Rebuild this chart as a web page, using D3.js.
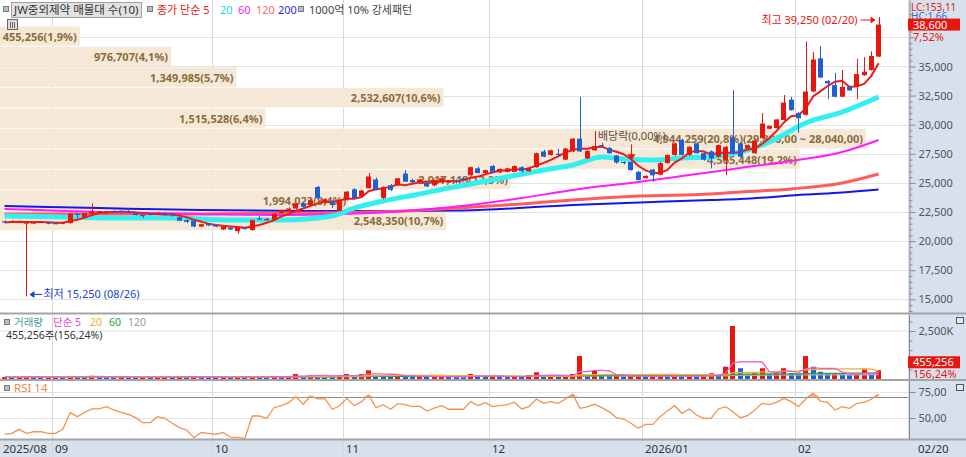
<!DOCTYPE html>
<html>
<head>
<meta charset="utf-8">
<title>JW중외제약 일봉</title>
<script src="https://d3js.org/d3.v7.min.js" charset="utf-8"></script>
<style>
  html, body { margin: 0; padding: 0; background: #fff; }
  svg text { font-family: "Noto Sans", "Noto Sans CJK KR", sans-serif; }
</style>
</head>
<body>
<script>
// daily candles, 2025/08/21 .. 2026/02/20 (prices in won)
var opens = [21700,21650,21650,21550,21550,21600,21600,21550,21500,21550,22350,22050,22350,22450,22500,22600,22600,22550,22400,22250,
  22350,22350,22400,22300,22050,21800,21750,21250,21500,21400,21000,21150,20850,21150,20950,21950,21850,21800,22400,22500,
  22800,23250,23100,24650,23300,23400,22600,23550,24450,23850,24550,25300,23700,24800,24800,25800,25250,25050,25000,24800,
  25050,25100,25200,25400,25650,26250,25850,26450,25900,25950,25950,26350,26000,26350,27700,27400,27500,27000,27700,28800,
  27100,27800,28250,28000,27350,26800,26800,25950,25400,26150,25700,26700,27400,28700,27400,28400,27550,27700,27250,26950,
  28900,28400,27950,27550,28850,29650,29700,30400,32150,31000,30850,32850,35700,33750,33400,32400,33250,33250,34250,34700,35850];
var highs = [21800,21800,21750,21700,21700,21700,21650,21650,21650,22400,22400,22400,23250,22600,22600,22650,22650,22800,22450,22300,
  22400,22500,22450,22400,22100,21850,21800,21500,21550,21450,21300,21200,21200,21200,21850,22150,22000,22400,22700,22900,
  23300,23350,23600,24750,23700,23500,23600,24300,24550,24400,25850,25450,24700,24900,25400,26100,25350,25350,25100,25300,
  25450,25250,25300,25500,26400,26400,26150,26550,26250,26300,26500,26450,26350,27600,27850,27850,27950,28000,28850,32400,
  27800,29450,28450,28100,27400,26850,26850,26050,25650,26200,26800,27450,28450,28800,28150,28500,27650,27800,28300,28200,
  32950,28500,28300,28700,31000,29950,30500,32550,32400,31100,37150,36250,36750,33850,34450,34700,33350,35650,35800,36300,39250];
var lows = [21550,21550,21600,15250,21500,21550,21450,21450,21450,21500,21950,22000,22300,22400,22450,22450,22450,22400,22200,22000,
  22200,22250,22200,22100,21700,21550,21200,21200,21300,21200,20950,20950,20650,21000,20900,21800,21750,21750,22350,22450,
  22700,22900,23000,23600,23200,22850,22550,23500,23650,23800,24500,24350,23600,24300,24750,25100,24900,24950,24650,24700,
  25000,25000,24950,25150,25600,25800,25800,25850,25850,25900,25900,25900,25950,26300,27200,27350,27250,26950,27650,27650,
  27050,27750,28050,27500,26650,26600,26050,25200,25350,25100,25650,26650,27300,27350,27300,27500,26900,26250,27200,25650,
  27450,27200,27900,27500,28800,29600,29650,30350,31200,29300,30800,32800,34000,32200,32350,32350,32900,32200,34200,34650,35800];
var closes = [21600,21700,21700,21600,21600,21650,21500,21500,21600,22350,22250,22400,22550,22550,22550,22500,22500,22500,22250,22200,
  22300,22400,22250,22250,21750,21650,21250,21450,21350,21250,21250,21000,21200,21050,21800,21900,21900,22350,22650,22800,
  23250,22950,23500,23700,23600,23100,23550,24250,23700,24350,25550,24400,24650,24400,25400,25100,25050,25300,24700,25250,
  25400,25150,25100,25250,26350,25850,26100,25900,26200,26250,26450,26000,26300,27550,27250,27800,27450,27950,28800,27700,
  27750,28150,28150,27550,26750,26700,26100,25250,25600,25650,26700,27400,28400,27400,28100,27550,27000,27100,28250,28100,
  27500,27250,28250,28650,30100,29900,30450,31900,31250,30550,32850,35600,34050,33550,32400,33250,32950,34350,34550,35900,38600];
// volume (shares)
var volumes = [100000,90000,110000,130000,100000,90000,110000,100000,90000,150000,120000,110000,170000,130000,100000,90000,110000,100000,90000,100000,
  80000,90000,130000,110000,120000,100000,140000,110000,90000,80000,100000,90000,110000,80000,150000,120000,100000,130000,110000,120000,
  260000,150000,210000,190000,150000,120000,170000,260000,180000,260000,450000,200000,180000,150000,210000,160000,120000,130000,110000,120000,
  140000,110000,100000,90000,260000,160000,120000,130000,110000,100000,140000,120000,200000,350000,150000,160000,140000,150000,260000,1200000,
  200000,420000,180000,150000,170000,130000,150000,160000,120000,140000,160000,150000,160000,140000,150000,130000,160000,300000,260000,640000,
  2760000,560000,250000,300000,560000,260000,330000,560000,300000,260000,1200000,640000,380000,260000,280000,250000,200000,250000,500000,291383,455256];
// RSI 14 as drawn
var rsi14 = [34.3,35.3,39.1,35.3,36.8,36.8,35.3,35.3,39.1,55.1,51.3,55.5,58.7,58.7,60.9,57.7,55.5,53.5,50.3,45.5,
  45.5,51.3,49.7,44.9,40.7,38.5,31.1,36.2,35.3,34.3,36.2,31.7,31.4,30.5,51.9,51.9,49.7,59.9,61.8,64.7,
  70.5,63.2,71.2,68.3,68.3,58.4,61.8,68.9,61.8,65.7,72.1,59.9,62.8,58.4,63.8,62.8,60.9,61.4,56.7,59.6,
  61.8,58.4,58.4,58.4,65.7,62.0,64.7,60.9,61.8,62.8,65.1,58.7,60.9,68.3,64.1,65.7,64.1,68.3,72.8,59.3,
  60.6,63.2,59.9,56.1,50.3,49.0,44.9,40.1,43.9,43.9,51.3,56.7,61.8,54.5,58.7,52.9,49.7,49.7,58.7,60.9,
  56.1,50.3,52.2,57.7,64.1,62.8,65.1,68.9,65.7,60.9,68.3,73.8,66.3,65.1,57.7,60.9,59.3,64.1,65.1,68.0,72.8];

// moving averages: [candle index, price]
var ma20 = [[0,22150],[8,22070],[16,21990],[23,21990],[31,21810],[38,21810],[45,22160],[48,22840],[52,23450],[57,24050],[61,24560],
  [64,24900],[69,25510],[74,26110],[78,26540],[82,27230],[85,27050],[89,26970],[93,27140],[97,27230],[101,27650],[105,28510],[110,30150],[115,31090],[120,32380]];
var ma60 = [[0,22760],[13,22500],[27,22330],[38,22240],[46,22330],[53,22500],[60,22840],[71,23700],[78,24390],[87,25080],[93,25590],
  [101,26280],[107,26800],[115,27650],[120,28690]];
var ma120 = [[0,22330],[13,22330],[27,22330],[41,22410],[55,22590],[60,22760],[71,23190],[78,23530],[87,23870],[97,24050],[101,24220],
  [108,24480],[115,24990],[120,25760]];
var ma200 = [[0,23020],[6,22930],[13,22840],[27,22670],[41,22590],[54,22590],[63,22630],[78,23100],[97,23530],[101,23620],[110,24000],
  [115,24180],[120,24430]];

// 매물대 (volume by price), top band first
var bandVolumes = [455256,976707,1349985,2532607,1515528,4944259,4565448,2917113,1994023,2548350];
var bandPcts = [1.9,4.1,5.7,10.6,6.4,20.8,19.2,12.3,8.4,10.7];
var bandRange = [21000, 38600];

var monthStarts = [7,29,47,67,88,109];
var monthLabels = ["2025/08","09","10","11","12","2026/01","02"];
var priceTicks = [15000,17500,20000,22500,25000,27500,30000,32500,35000,37500];

var W = 966, H = 457, n = closes.length;
var RED = "#e8170e", BLUE = "#1f5fd0";

var svg = d3.select("body").append("svg")
  .attr("width", W).attr("height", H).style("display", "block");

svg.append("rect").attr("width", W).attr("height", H).attr("fill", "#fff");
svg.append("rect").attr("x", 908).attr("y", 0).attr("width", W - 908).attr("height", H).attr("fill", "#d7e1ed");
svg.append("rect").attr("x", 0).attr("y", 440).attr("width", W).attr("height", 17).attr("fill", "#d7e1ed");

// scales
var x = d3.scaleBand().domain(d3.range(n)).range([0.9, 0.9 + n * 7.284]).paddingInner(0.3).paddingOuter(0.15);
function xc(i) { return x(i) + x.bandwidth() / 2; }
var yP = d3.scaleLinear().domain([13910, 40711]).range([312, 0]);
var yV = d3.scaleLinear().domain([0, 2500000]).range([379, 331]);
var yR = d3.scaleLinear().domain([30, 75]).range([438.8, 392]);
var bx = d3.scaleLinear().domain([0, d3.max(bandVolumes)]).range([0, 866]);
var comma = function (s) { return s.replace(/\./g, ","); };

// grid
svg.append("g").selectAll("line").data(priceTicks).join("line")
  .attr("x1", 0).attr("x2", 908).attr("y1", d => Math.round(yP(d)) + 0.5).attr("y2", d => Math.round(yP(d)) + 0.5)
  .attr("stroke", "#e3e3e3");
svg.append("g").selectAll("line").data([2500000]).join("line")
  .attr("x1", 0).attr("x2", 908).attr("y1", d => yV(d)).attr("y2", d => yV(d)).attr("stroke", "#e3e3e3");
svg.append("g").selectAll("line").data([75, 50]).join("line")
  .attr("x1", 0).attr("x2", 908).attr("y1", d => Math.round(yR(d)) + 0.5).attr("y2", d => Math.round(yR(d)) + 0.5)
  .attr("stroke", "#e3e3e3");
svg.append("line").attr("x1", 0).attr("x2", 908).attr("y1", Math.round(yR(70)) + 0.5).attr("y2", Math.round(yR(70)) + 0.5)
  .attr("stroke", "#8c8c8c");
svg.append("g").selectAll("line").data(monthStarts).join("line")
  .attr("x1", d => Math.round(xc(d) - x.step() / 2) + 0.5).attr("x2", d => Math.round(xc(d) - x.step() / 2) + 0.5)
  .attr("y1", 0).attr("y2", H).attr("stroke", "#d8d8d8");

// volume profile bands
var bandStep = (bandRange[1] - bandRange[0]) / bandVolumes.length;
var bands = svg.append("g");
bandVolumes.forEach(function (v, k) {
  var top = bandRange[1] - k * bandStep, bot = top - bandStep;
  var y0 = yP(top) + 1.8, h = yP(bot) - yP(top) - 1;
  bands.append("rect").attr("x", 0).attr("y", y0).attr("width", bx(v)).attr("height", h).attr("fill", "#f5e8d7");
});
bandVolumes.forEach(function (v, k) {
  var top = bandRange[1] - k * bandStep, bot = top - bandStep;
  var label = d3.format(",")(v) + "(" + comma(bandPcts[k].toFixed(1)) + "%)";
  if (v === d3.max(bandVolumes)) {
    label += "(" + comma(d3.format(",.2f")(top)) + " ~ " + comma(d3.format(",.2f")(bot)) + ")";
  }
  bands.append("text").attr("x", bx(v) - 3).attr("y", (yP(top) + yP(bot)) / 2 + 6)
    .attr("text-anchor", "end").attr("font-size", "11px").attr("font-weight", "bold")
    .attr("fill", "#8a6c3c").text(label);
});

// moving averages
var ptLine = d3.line().x(d => xc(d[0])).y(d => yP(d[1])).curve(d3.curveMonotoneX);
[[ma200, "#1515ee", 2], [ma120, "#ff5c5c", 3], [ma60, "#ff1cff", 2], [ma20, "#33f0f0", 5]].forEach(function (m) {
  svg.append("path").attr("d", ptLine(m[0])).attr("fill", "none").attr("stroke", m[1])
    .attr("stroke-width", m[2]).attr("stroke-linejoin", "round");
});
function sma(arr, p) {
  return arr.map((d, i) => d3.mean(arr.slice(Math.max(0, i - p + 1), i + 1)));
}
var ma5 = sma(closes, 5);
svg.append("path").attr("d", d3.line().x((d, i) => xc(i)).y(d => yP(d))(ma5))
  .attr("fill", "none").attr("stroke", "#ee1c1c").attr("stroke-width", 2);

// candles
var cg = svg.append("g").selectAll("g").data(d3.range(n)).join("g");
cg.append("line")
  .attr("x1", i => Math.round(xc(i)) + 0.5).attr("x2", i => Math.round(xc(i)) + 0.5)
  .attr("y1", i => yP(highs[i])).attr("y2", i => yP(lows[i]))
  .attr("stroke", i => closes[i] >= opens[i] ? RED : BLUE);
cg.append("rect")
  .attr("x", i => Math.round(x(i))).attr("width", Math.round(x.bandwidth()))
  .attr("y", i => yP(Math.max(opens[i], closes[i])))
  .attr("height", i => Math.max(1.2, Math.abs(yP(opens[i]) - yP(closes[i]))))
  .attr("fill", i => closes[i] >= opens[i] ? RED : BLUE);

// annotations
var hiI = d3.maxIndex(highs), loI = d3.minIndex(lows);
var hy = yP(highs[hiI]) + 3;
svg.append("text").attr("x", xc(hiI) - 21).attr("y", hy + 4).attr("text-anchor", "end")
  .attr("font-size", "11px").attr("fill", RED).text("최고 39,250 (02/20)");
svg.append("line").attr("x1", xc(hiI) - 18).attr("x2", xc(hiI) - 6).attr("y1", hy).attr("y2", hy).attr("stroke", RED);
svg.append("path").attr("d", d3.line()([[xc(hiI) - 3, hy], [xc(hiI) - 8, hy - 3.5], [xc(hiI) - 8, hy + 3.5]])).attr("fill", RED);
var ly = yP(lows[loI]) - 2;
svg.append("line").attr("x1", xc(loI) + 6).attr("x2", xc(loI) + 16).attr("y1", ly).attr("y2", ly).attr("stroke", "#1a3fd0");
svg.append("path").attr("d", d3.line()([[xc(loI) + 3, ly], [xc(loI) + 8, ly - 3.5], [xc(loI) + 8, ly + 3.5]])).attr("fill", "#1a3fd0");
svg.append("text").attr("x", xc(loI) + 17).attr("y", ly + 4).attr("font-size", "11px").attr("fill", "#1a3fd0")
  .text("최저 15,250 (08/26)");
var divI = 86, dy = yP(highs[divI]);
svg.append("line").attr("x1", Math.round(xc(divI)) + 0.5).attr("x2", Math.round(xc(divI)) + 0.5)
  .attr("y1", dy - 17).attr("y2", dy - 4).attr("stroke", RED);
svg.append("path").attr("d", d3.line()([[xc(divI) + 0.5, dy - 1], [xc(divI) - 3.5, dy - 7], [xc(divI) + 4.5, dy - 7]])).attr("fill", RED);
svg.append("text").attr("x", xc(divI) - 33).attr("y", dy - 21).attr("font-size", "11px").attr("fill", "#5e4f3e").text("배당락(0,00%)");

// volume panel
svg.append("g").selectAll("rect").data(volumes).join("rect")
  .attr("x", (d, i) => Math.round(x(i))).attr("width", Math.round(x.bandwidth()))
  .attr("y", d => yV(d)).attr("height", d => 379 - yV(d))
  .attr("fill", (d, i) => i === 0 || d >= volumes[i - 1] ? RED : BLUE);
[[120, "#a8a8a8"], [60, "#2ea04e"], [20, "#f2b02c"], [5, "#e860d4"]].forEach(function (m) {
  svg.append("path").attr("d", d3.line().x((d, i) => xc(i)).y(d => yV(d))(sma(volumes, m[0])))
    .attr("fill", "none").attr("stroke", m[1]).attr("stroke-width", 1.3);
});

// RSI panel
svg.append("path").attr("d", d3.area().x((d, i) => xc(i)).y0(yR(70)).y1(d => yR(Math.max(d, 70)))(rsi14))
  .attr("fill", "#f6b888");
svg.append("path").attr("d", d3.line().x((d, i) => xc(i)).y(d => yR(d))(rsi14))
  .attr("fill", "none").attr("stroke", "#f3934d").attr("stroke-width", 1.3);

// panel separators
[313.5, 380, 439.5].forEach(function (y) {
  svg.append("line").attr("x1", 0).attr("x2", W).attr("y1", y).attr("y2", y).attr("stroke", "#a4a4a4").attr("stroke-width", 2);
});

// right axes
function styleAxis(g) {
  g.select(".domain").attr("stroke", "#8a8a8a");
  g.selectAll(".tick line").attr("stroke", "#8a8a8a");
  g.selectAll("text").attr("fill", "#555").attr("font-size", "11px").attr("font-family", null);
}
var fmt = d3.format(",");
svg.append("g").attr("transform", "translate(909.5,0)")
  .call(d3.axisRight(yP).tickValues(priceTicks).tickSize(6).tickSizeOuter(0)
    .tickFormat(d => d === 37500 ? "" : fmt(d))).call(styleAxis);
svg.append("g").attr("transform", "translate(909.5,0)")
  .call(d3.axisRight(yP).tickValues(d3.range(14000, 40500, 500).filter(d => d % 2500)).tickSize(3).tickFormat(""))
  .call(g => g.select(".domain").remove()).call(styleAxis);
svg.append("g").attr("transform", "translate(909.5,0)")
  .call(d3.axisRight(yV).tickValues([2500000]).tickSize(6).tickSizeOuter(0).tickFormat(() => "2,500K"))
  .call(g => g.select(".domain").attr("d", "M0,315V379")).call(styleAxis);
svg.append("g").attr("transform", "translate(909.5,0)")
  .call(d3.axisRight(yV).tickValues([500000, 1000000, 1500000, 2000000, 3000000]).tickSize(3).tickFormat(""))
  .call(g => g.select(".domain").remove()).call(styleAxis);
svg.append("g").attr("transform", "translate(909.5,0)")
  .call(d3.axisRight(yR).tickValues([50, 75]).tickSize(6).tickSizeOuter(0).tickFormat(d => d + ",00"))
  .call(g => g.select(".domain").attr("d", "M0,381V439")).call(styleAxis);

// right side value boxes (HC sits half under the price box, as on the original)
svg.append("text").attr("x", 911).attr("y", 10.5).attr("font-size", "10px").attr("fill", RED).text("LC:153,11");
svg.append("text").attr("x", 911).attr("y", 20).attr("font-size", "10px").attr("fill", "#3a66c8").text("HC:1,66");
svg.append("rect").attr("x", 908).attr("y", yP(38600) - 6).attr("width", 52).attr("height", 12).attr("fill", RED);
svg.append("text").attr("x", 913).attr("y", yP(38600) + 4).attr("font-size", "11px").attr("fill", "#fff").text("38,600");
svg.append("text").attr("x", 913).attr("y", yP(38600) + 16).attr("font-size", "11px").attr("fill", RED).text("7,52%");
svg.append("rect").attr("x", 908).attr("y", yV(455256) - 14).attr("width", 52).attr("height", 12).attr("fill", RED);
svg.append("text").attr("x", 913).attr("y", yV(455256) - 4).attr("font-size", "11px").attr("fill", "#fff").text("455,256");
svg.append("text").attr("x", 913).attr("y", yV(455256) + 8).attr("font-size", "11px").attr("fill", RED).text("156,24%");
[317, 384].forEach(function (y) {
  svg.append("rect").attr("x", 956.5).attr("y", y + 0.5).attr("width", 7).attr("height", 6)
    .attr("fill", "#e8e8e8").attr("stroke", "#555");
});

// x axis labels
var monthX = [0].concat(monthStarts);
svg.append("g").selectAll("text").data(monthLabels).join("text")
  .attr("x", (d, i) => i === 0 ? 3 : Math.round(xc(monthX[i]) - x.step() / 2) + 3).attr("y", 453)
  .attr("font-size", "11.5px").attr("fill", "#333").text(d => d);
svg.append("text").attr("x", 918).attr("y", 453).attr("font-size", "11.5px").attr("fill", "#333").text("02/20");

// legends
function icon(xp, yp) {
  svg.append("rect").attr("x", xp + 0.5).attr("y", yp + 0.5).attr("width", 5).attr("height", 5)
    .attr("fill", "#bdbdbd").attr("stroke", "#7a7a7a");
}
icon(3, 6);
svg.append("rect").attr("x", 11.5).attr("y", 2.5).attr("width", 130).attr("height", 15).attr("fill", "#e2e2e2").attr("stroke", "#a0a0a0");
svg.append("text").attr("x", 14).attr("y", 14).attr("font-size", "11.5px").attr("fill", "#333").text("JW중외제약 매물대 수(10)");
icon(147, 6);
var lg = [["종가 단순 5", RED, 157], ["20", "#22d8e0", 220], ["60", "#ff22ff", 238], ["120", "#ff6a6a", 256], ["200", "#2a2ae8", 278]];
lg.forEach(function (d) {
  svg.append("text").attr("x", d[2]).attr("y", 14).attr("font-size", "11px").attr("fill", d[1]).text(d[0]);
});
icon(298, 6);
svg.append("text").attr("x", 309).attr("y", 14).attr("font-size", "11px").attr("fill", "#444").text("1000억 10% 강세패턴");
svg.append("rect").attr("x", 7.5).attr("y", 19.5).attr("width", 10).attr("height", 10).attr("fill", "#ddd").attr("stroke", "#666");
svg.append("path").attr("d", "M10.5,22V28M12.5,22V28M14.5,22V28").attr("stroke", "#666");

icon(4, 319);
[["거래량", "#3a9c9c", 14], ["단순 5", "#e048d0", 53], ["20", "#f0b020", 90], ["60", "#2ea04e", 109], ["120", "#999", 128]].forEach(function (d) {
  svg.append("text").attr("x", d[2]).attr("y", 325.5).attr("font-size", "10.5px").attr("fill", d[1]).text(d[0]);
});
svg.append("text").attr("x", 6).attr("y", 338.5).attr("font-size", "10.5px").attr("fill", "#333").text("455,256주(156,24%)");
icon(4, 385);
svg.append("text").attr("x", 14).attr("y", 392).attr("font-size", "11.5px").attr("fill", "#f0883c").text("RSI 14");
</script>
</body>
</html>
